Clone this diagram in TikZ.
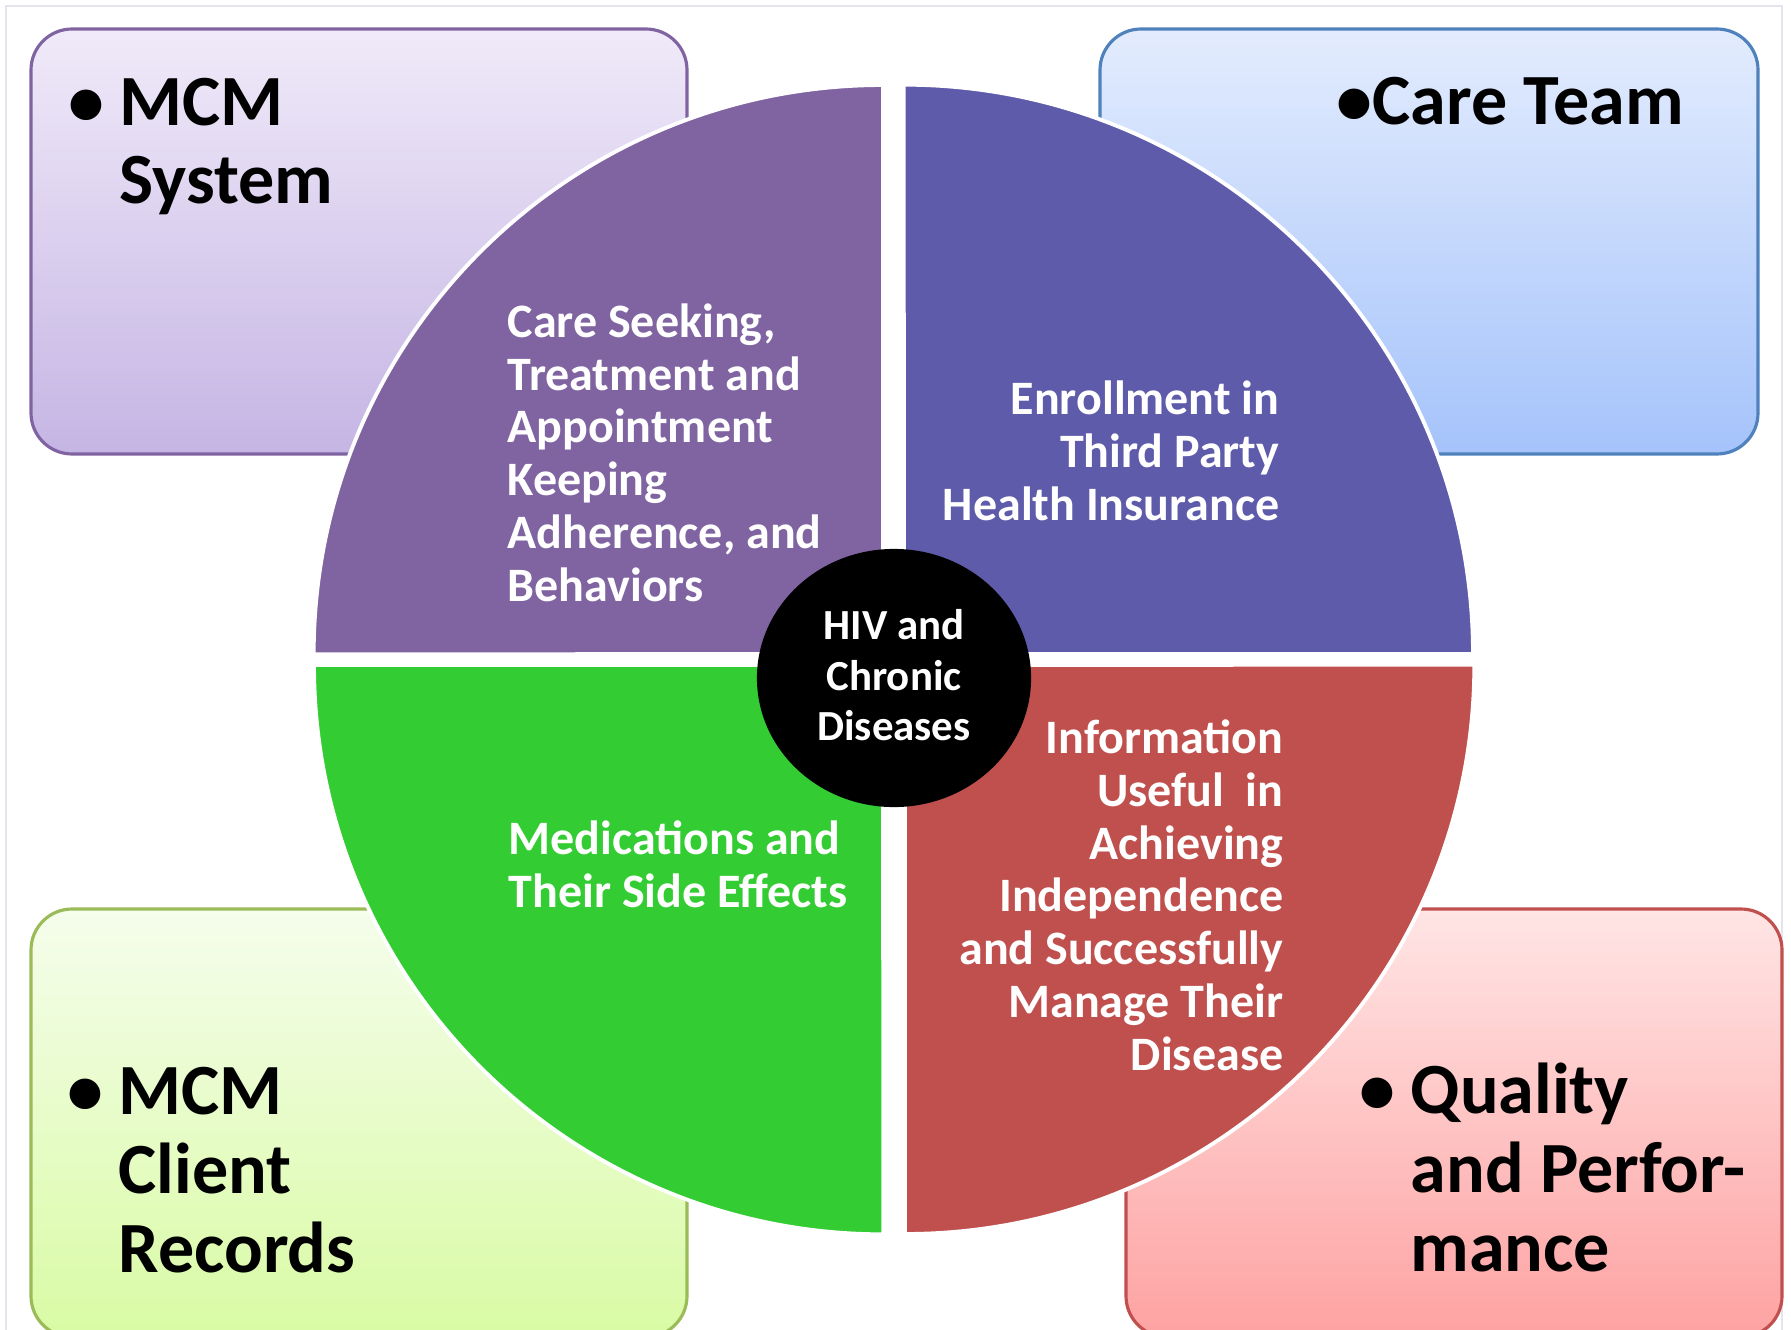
\documentclass[tikz,border=0pt]{standalone}
\usepackage{fontspec}
\setmainfont{Carlito}
\usetikzlibrary{shapes.geometric}

\definecolor{quadpurple}{RGB}{128,100,162}
\definecolor{quadblue}{RGB}{95,91,171}
\definecolor{quadgreen}{RGB}{51,204,51}
\definecolor{quadred}{RGB}{192,80,77}
\definecolor{purpletop}{RGB}{240,234,249}
\definecolor{purplebot}{RGB}{197,181,228}
\definecolor{purpleline}{RGB}{128,100,162}
\definecolor{bluetop}{RGB}{227,236,253}
\definecolor{bluebot}{RGB}{165,195,251}
\definecolor{blueline}{RGB}{79,129,189}
\definecolor{greentop}{RGB}{245,253,236}
\definecolor{greenbot}{RGB}{217,251,164}
\definecolor{greenline}{RGB}{155,187,89}
\definecolor{redtop}{RGB}{255,229,229}
\definecolor{redbot}{RGB}{254,162,162}
\definecolor{redline}{RGB}{192,80,77}
\definecolor{framegray}{RGB}{228,228,236}

\begin{document}
\begin{tikzpicture}[x=0.01cm, y=0.01cm,
  every node/.style={inner sep=0pt},
  % Corner boxes
  box/.style={rounded corners=0.41cm, line width=0.9pt},
  % Pie quarters
  quad/.style={draw=white, line width=1.1pt},
  % Centre disc
  hub/.style={ellipse, fill=black, minimum width=2.74cm, minimum height=2.58cm, text=white,
    align=center, text depth=1.7pt, font=\fontsize{12.2pt}{14.4pt}\selectfont\bfseries},
  % Texts
  bigtxt/.style={align=left, font=\fontsize{20.5pt}{22.4pt}\selectfont\bfseries},
  quadtxt/.style={text=white, font=\fontsize{13.65pt}{15pt}\selectfont\bfseries}
]
\useasboundingbox (0,0) rectangle (1791,1329);
\clip (0,0) rectangle (1791,1329);

% === Frame ===
\draw[framegray, line width=0.6pt] (6,-10) rectangle (1782,1323);

% === Corner boxes ===
\path[box, draw=purpleline, top color=purpletop, bottom color=purplebot] (31,875) rectangle (687,1300);
\path[box, draw=blueline, top color=bluetop, bottom color=bluebot] (1100,875) rectangle (1758,1300);
\path[box, draw=greenline, top color=greentop, bottom color=greenbot] (31,-8) rectangle (687,420);
\path[box, draw=redline, top color=redtop, bottom color=redbot] (1126,-8) rectangle (1782,420);

% === Pie quarters ===
\fill[quad, fill=quadpurple] (883,675) -- ++(0,569) arc[start angle=90, end angle=180, radius=5.69cm] -- cycle;
\fill[quad, fill=quadblue] (904,675) -- ++(569,0) arc[start angle=0, end angle=90, radius=5.69cm] -- cycle;
\fill[quad, fill=quadgreen] (883,664) -- ++(-569,0) arc[start angle=180, end angle=270, radius=5.69cm] -- cycle;
\fill[quad, fill=quadred] (905,664) -- ++(0,-569) arc[start angle=270, end angle=360, radius=5.69cm] -- cycle;

% === Quarter labels ===
\node[quadtxt, anchor=base west, align=left] (care) at (507,728)
  {Care Seeking,\\Treatment and\\Appointment\\Keeping\\Adherence, and\\Behaviors};
\node[quadtxt, anchor=base east, align=right] (enrol) at (1280,809)
  {Enrollment in\\Third Party\\Health Insurance};
\node[quadtxt, anchor=base west, align=left] (meds) at (508,422)
  {Medications and\\Their Side Effects};
\node[quadtxt, anchor=base east, align=right] (info) at (1284,259)
  {Information\\Useful\ \ in\\Achieving\\Independence\\and Successfully\\Manage Their\\Disease};

% === Centre ===
\node[hub] (hiv) at (894,651) {HIV and\\Chronic\\Diseases};

% === Box labels ===
\node[bigtxt, anchor=base west] (sys) at (119,1125) {\llap{•\hspace{0.15cm}}MCM\\System};
\node[bigtxt, anchor=base west] (team) at (1336,1204) {•Care Team};
\node[bigtxt, anchor=base west] (rec) at (118,57) {\llap{•\hspace{0.15cm}}MCM\\Client\\Records};
\node[bigtxt, anchor=base west] (qual) at (1410,58) {\llap{•\hspace{0.15cm}}Quality\\and Perfor-\\mance};

\end{tikzpicture}
\end{document}
